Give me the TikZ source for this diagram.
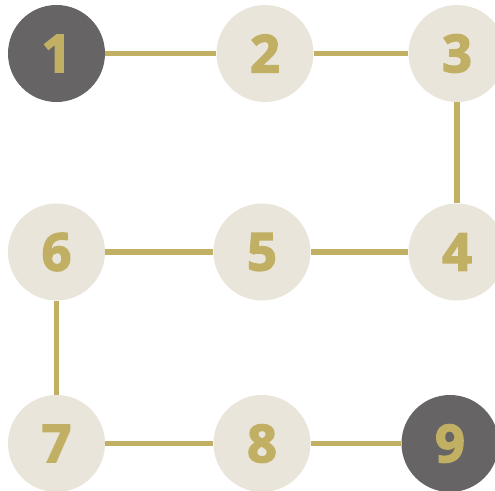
\documentclass[tikz,border=0pt]{standalone}
\usepackage{fontspec}
\setmainfont{Open Sans}[BoldFeatures={FakeBold=3}]
\usetikzlibrary{positioning}
\definecolor{stepgray}{HTML}{676465}
\definecolor{stepbeige}{HTML}{E9E5DB}
\definecolor{stepgold}{HTML}{C1B063}

\begin{document}
\begin{tikzpicture}[x=1pt, y=-1pt,
    font=\fontsize{52}{52}\selectfont\bfseries,
    every node/.style={circle, minimum size=97pt, inner sep=0pt, text=stepgold},
    plain/.style={fill=stepbeige},
    ends/.style={fill=stepgray},
    link/.style={draw=stepgold, line width=5.5pt}]
  \useasboundingbox (0,0) rectangle (495,490);
  \node[ends]  (n1) at (56.5,53.5) {1};
  \node[plain] (n2) at (265,53.5) {2};
  \node[plain] (n3) at (457,53.5) {3};
  \node[plain] (n4) at (457,252) {4};
  \node[plain] (n5) at (262,252) {5};
  \node[plain] (n6) at (56.5,252) {6};
  \node[plain] (n7) at (56.5,443.5) {7};
  \node[plain] (n8) at (262,443.5) {8};
  \node[ends]  (n9) at (450,443.5) {9};
  \draw[link] (n1) -- (n2);
  \draw[link] (n2) -- (n3);
  \draw[link] (n3) -- (n4);
  \draw[link] (n4) -- (n5);
  \draw[link] (n5) -- (n6);
  \draw[link] (n6) -- (n7);
  \draw[link] (n7) -- (n8);
  \draw[link] (n8) -- (n9);
\end{tikzpicture}
\end{document}
